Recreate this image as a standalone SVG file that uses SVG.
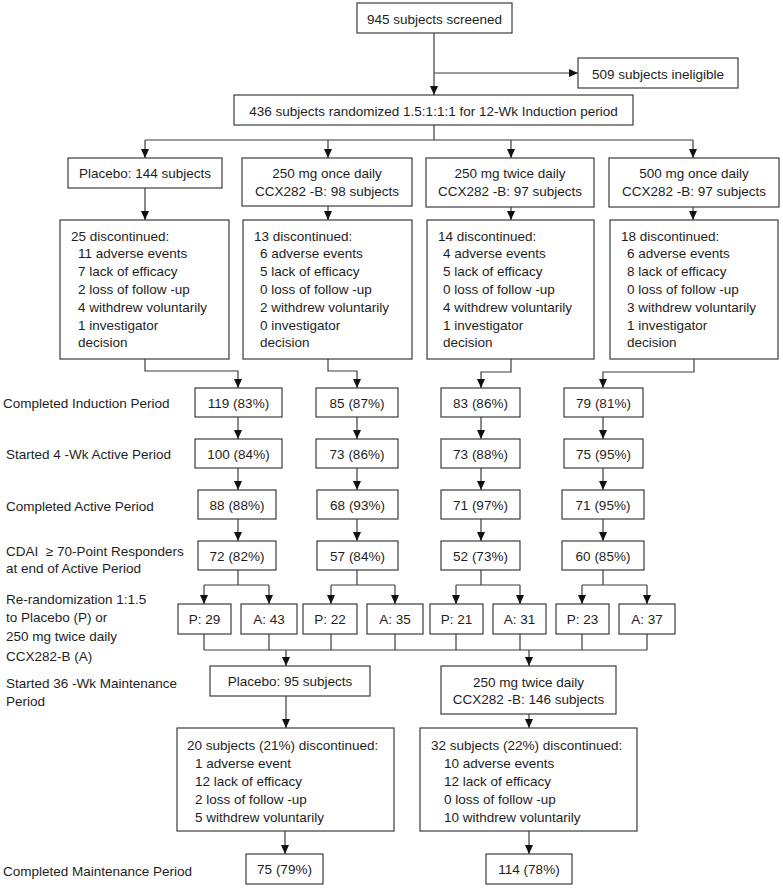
<svg xmlns="http://www.w3.org/2000/svg" width="783" height="888" viewBox="0 0 783 888">
<style>
  .box { fill: #ffffff; stroke: #3c3c3c; stroke-width: 1.2; }
  .ln { fill: none; stroke: #3c3c3c; stroke-width: 1.2; }
  .arr { marker-end: url(#ah); }
  text { font-family: "Liberation Sans", Arial, sans-serif; font-size: 13.5px; fill: #1e1e1e; }
  .c { text-anchor: middle; }
</style>
<defs>
  <marker id="ah" markerUnits="userSpaceOnUse" markerWidth="10" markerHeight="10" refX="9" refY="4" orient="auto">
    <path d="M0,0 L9,4 L0,8 Z" fill="#111111"/>
  </marker>
</defs>
<rect width="783" height="888" fill="#ffffff"/>

<g id="connectors">
  <path class="ln arr" d="M434,33 V95"/>
  <path class="ln arr" d="M434,73 H578"/>
  <path class="ln" d="M434,125 V140 M145,140 H693"/>
  <path class="ln arr" d="M145,140 V158"/>
  <path class="ln arr" d="M328,140 V158"/>
  <path class="ln arr" d="M511,140 V158"/>
  <path class="ln arr" d="M693,140 V158"/>
  <path class="ln arr" d="M145,188 V220"/>
  <path class="ln arr" d="M328,206 V220"/>
  <path class="ln arr" d="M511,207 V220"/>
  <path class="ln arr" d="M693,207 V220"/>
  <path class="ln arr" d="M145,359 V371 H238 V388"/>
  <path class="ln arr" d="M328,359 V371 H357 V388"/>
  <path class="ln arr" d="M511,359 V372 H481 V388"/>
  <path class="ln arr" d="M694,359 V372 H603 V388"/>
  <path class="ln arr" d="M238,417 V439"/>
  <path class="ln arr" d="M357,417 V439"/>
  <path class="ln arr" d="M481,417 V439"/>
  <path class="ln arr" d="M603,417 V439"/>
  <path class="ln arr" d="M238,468 V490"/>
  <path class="ln arr" d="M357,468 V490"/>
  <path class="ln arr" d="M481,468 V490"/>
  <path class="ln arr" d="M603,468 V490"/>
  <path class="ln arr" d="M238,519 V541"/>
  <path class="ln arr" d="M357,519 V541"/>
  <path class="ln arr" d="M481,519 V541"/>
  <path class="ln arr" d="M603,519 V541"/>
  <path class="ln" d="M238,570 V585 M204,585 H269 M357,570 V585 M331,585 H395 M481,570 V585 M456,585 H520 M603,570 V585 M582,585 H647"/>
  <path class="ln arr" d="M204,585 V604"/>
  <path class="ln arr" d="M269,585 V604"/>
  <path class="ln arr" d="M331,585 V604"/>
  <path class="ln arr" d="M395,585 V604"/>
  <path class="ln arr" d="M456,585 V604"/>
  <path class="ln arr" d="M520,585 V604"/>
  <path class="ln arr" d="M582,585 V604"/>
  <path class="ln arr" d="M647,585 V604"/>
  <path class="ln" d="M204,634 V650 M269,634 V650 M331,634 V650 M395,634 V650 M456,634 V650 M520,634 V650 M582,634 V650 M647,634 V650 M204,650 H647"/>
  <path class="ln arr" d="M286,650 V666"/>
  <path class="ln arr" d="M529,650 V666"/>
  <path class="ln arr" d="M286,696 V728"/>
  <path class="ln arr" d="M529,714 V728"/>
  <path class="ln arr" d="M285,831 V854"/>
  <path class="ln arr" d="M529,831 V854"/>
</g>

<g id="n-screened"><rect class="box" x="357" y="3" width="155" height="30"/><text class="c" x="434.5" y="23.5">945 subjects screened</text></g>
<g id="n-ineligible"><rect class="box" x="578" y="58" width="160" height="30"/><text class="c" x="658" y="78.5">509 subjects ineligible</text></g>
<g id="n-randomized"><rect class="box" x="234" y="95" width="399" height="30"/><text class="c" x="433.5" y="115.5">436 subjects randomized 1.5:1:1:1 for 12-Wk Induction period</text></g>

<g id="n-placebo"><rect class="box" x="68" y="158" width="154" height="30"/><text class="c" x="145" y="178">Placebo: 144 subjects</text></g>
<g id="n-250once"><rect class="box" x="242" y="158" width="170" height="48"/><text class="c" x="327" y="178">250 mg once daily</text><text class="c" x="327" y="196">CCX282 -B: 98 subjects</text></g>
<g id="n-250twice"><rect class="box" x="426" y="158" width="168" height="49"/><text class="c" x="510" y="178">250 mg twice daily</text><text class="c" x="510" y="196">CCX282 -B: 97 subjects</text></g>
<g id="n-500once"><rect class="box" x="609" y="158" width="170" height="49"/><text class="c" x="694" y="178">500 mg once daily</text><text class="c" x="694" y="196">CCX282 -B: 97 subjects</text></g>

<g id="n-disc1"><rect class="box" x="60" y="220" width="169" height="139"/>
  <text x="71" y="240.5">25 discontinued:</text>
  <text x="78" y="258.3">11 adverse events</text>
  <text x="78" y="276.1">7 lack of efficacy</text>
  <text x="78" y="293.9">2 loss of follow -up</text>
  <text x="78" y="311.7">4 withdrew voluntarily</text>
  <text x="78" y="329.5">1 investigator</text>
  <text x="78" y="347.3">decision</text>
</g>
<g id="n-disc2"><rect class="box" x="243" y="220" width="169" height="139"/>
  <text x="254" y="240.5">13 discontinued:</text>
  <text x="260" y="258.3">6 adverse events</text>
  <text x="260" y="276.1">5 lack of efficacy</text>
  <text x="260" y="293.9">0 loss of follow -up</text>
  <text x="260" y="311.7">2 withdrew voluntarily</text>
  <text x="260" y="329.5">0 investigator</text>
  <text x="260" y="347.3">decision</text>
</g>
<g id="n-disc3"><rect class="box" x="427" y="220" width="167" height="139"/>
  <text x="438" y="240.5">14 discontinued:</text>
  <text x="443" y="258.3">4 adverse events</text>
  <text x="443" y="276.1">5 lack of efficacy</text>
  <text x="443" y="293.9">0 loss of follow -up</text>
  <text x="443" y="311.7">4 withdrew voluntarily</text>
  <text x="443" y="329.5">1 investigator</text>
  <text x="443" y="347.3">decision</text>
</g>
<g id="n-disc4"><rect class="box" x="610" y="220" width="168" height="139"/>
  <text x="621" y="240.5">18 discontinued:</text>
  <text x="627" y="258.3">6 adverse events</text>
  <text x="627" y="276.1">8 lack of efficacy</text>
  <text x="627" y="293.9">0 loss of follow -up</text>
  <text x="627" y="311.7">3 withdrew voluntarily</text>
  <text x="627" y="329.5">1 investigator</text>
  <text x="627" y="347.3">decision</text>
</g>

<g id="n-ind1"><rect class="box" x="195" y="388" width="87" height="29"/><text class="c" x="238.5" y="407.5">119 (83%)</text></g>
<g id="n-ind2"><rect class="box" x="316" y="388" width="82" height="29"/><text class="c" x="357" y="407.5">85 (87%)</text></g>
<g id="n-ind3"><rect class="box" x="441" y="388" width="79" height="29"/><text class="c" x="480.5" y="407.5">83 (86%)</text></g>
<g id="n-ind4"><rect class="box" x="564" y="388" width="79" height="29"/><text class="c" x="603.5" y="407.5">79 (81%)</text></g>

<g id="n-act1"><rect class="box" x="195" y="439" width="87" height="29"/><text class="c" x="238.5" y="458.5">100 (84%)</text></g>
<g id="n-act2"><rect class="box" x="316" y="439" width="82" height="29"/><text class="c" x="357" y="458.5">73 (86%)</text></g>
<g id="n-act3"><rect class="box" x="441" y="439" width="79" height="29"/><text class="c" x="480.5" y="458.5">73 (88%)</text></g>
<g id="n-act4"><rect class="box" x="564" y="439" width="79" height="29"/><text class="c" x="603.5" y="458.5">75 (95%)</text></g>

<g id="n-cmp1"><rect class="box" x="198" y="490" width="78" height="29"/><text class="c" x="237" y="509.5">88 (88%)</text></g>
<g id="n-cmp2"><rect class="box" x="317" y="490" width="81" height="29"/><text class="c" x="357.5" y="509.5">68 (93%)</text></g>
<g id="n-cmp3"><rect class="box" x="441" y="490" width="79" height="29"/><text class="c" x="480.5" y="509.5">71 (97%)</text></g>
<g id="n-cmp4"><rect class="box" x="562" y="490" width="82" height="29"/><text class="c" x="603" y="509.5">71 (95%)</text></g>

<g id="n-resp1"><rect class="box" x="198" y="541" width="78" height="29"/><text class="c" x="237" y="560.5">72 (82%)</text></g>
<g id="n-resp2"><rect class="box" x="317" y="541" width="81" height="29"/><text class="c" x="357.5" y="560.5">57 (84%)</text></g>
<g id="n-resp3"><rect class="box" x="441" y="541" width="79" height="29"/><text class="c" x="480.5" y="560.5">52 (73%)</text></g>
<g id="n-resp4"><rect class="box" x="562" y="541" width="82" height="29"/><text class="c" x="603" y="560.5">60 (85%)</text></g>

<g id="n-p29"><rect class="box" x="178" y="604" width="53" height="30"/><text class="c" x="204.5" y="624">P: 29</text></g>
<g id="n-a43"><rect class="box" x="241" y="604" width="56" height="30"/><text class="c" x="269" y="624">A: 43</text></g>
<g id="n-p22"><rect class="box" x="303" y="604" width="54" height="30"/><text class="c" x="330" y="624">P: 22</text></g>
<g id="n-a35"><rect class="box" x="367" y="604" width="56" height="30"/><text class="c" x="395" y="624">A: 35</text></g>
<g id="n-p21"><rect class="box" x="430" y="604" width="53" height="30"/><text class="c" x="456.5" y="624">P: 21</text></g>
<g id="n-a31"><rect class="box" x="493" y="604" width="53" height="30"/><text class="c" x="519.5" y="624">A: 31</text></g>
<g id="n-p23"><rect class="box" x="556" y="604" width="53" height="30"/><text class="c" x="582.5" y="624">P: 23</text></g>
<g id="n-a37"><rect class="box" x="619" y="604" width="56" height="30"/><text class="c" x="647" y="624">A: 37</text></g>

<g id="n-mplacebo"><rect class="box" x="210" y="666" width="160" height="30"/><text class="c" x="290" y="686">Placebo: 95 subjects</text></g>
<g id="n-mactive"><rect class="box" x="441" y="666" width="175" height="48"/><text class="c" x="528.5" y="686.5">250 mg twice daily</text><text class="c" x="528.5" y="704">CCX282 -B: 146 subjects</text></g>

<g id="n-mdisc1"><rect class="box" x="177" y="728" width="217" height="103"/>
  <text x="187" y="750">20 subjects (21%) discontinued:</text>
  <text x="195" y="768">1 adverse event</text>
  <text x="195" y="786">12 lack of efficacy</text>
  <text x="195" y="804">2 loss of follow -up</text>
  <text x="195" y="822">5 withdrew voluntarily</text>
</g>
<g id="n-mdisc2"><rect class="box" x="420" y="728" width="217" height="103"/>
  <text x="431" y="750">32 subjects (22%) discontinued:</text>
  <text x="444" y="768">10 adverse events</text>
  <text x="444" y="786">12 lack of efficacy</text>
  <text x="444" y="804">0 loss of follow -up</text>
  <text x="444" y="822">10 withdrew voluntarily</text>
</g>

<g id="n-final1"><rect class="box" x="246" y="854" width="77" height="30"/><text class="c" x="284.5" y="874">75 (79%)</text></g>
<g id="n-final2"><rect class="box" x="486" y="854" width="86" height="30"/><text class="c" x="529" y="874">114 (78%)</text></g>

<g id="labels">
  <text x="3" y="408">Completed Induction Period</text>
  <text x="6" y="459">Started 4 -Wk Active Period</text>
  <text x="6" y="511">Completed Active Period</text>
  <text x="6" y="556" xml:space="preserve">CDAI  ≥ 70-Point Responders</text>
  <text x="6" y="573">at end of Active Period</text>
  <text x="6" y="604">Re-randomization 1:1.5</text>
  <text x="6" y="622">to Placebo (P) or</text>
  <text x="6" y="641">250 mg twice daily</text>
  <text x="6" y="661">CCX282-B (A)</text>
  <text x="6" y="688">Started 36 -Wk Maintenance</text>
  <text x="6" y="706">Period</text>
  <text x="3" y="876">Completed Maintenance Period</text>
</g>
</svg>
